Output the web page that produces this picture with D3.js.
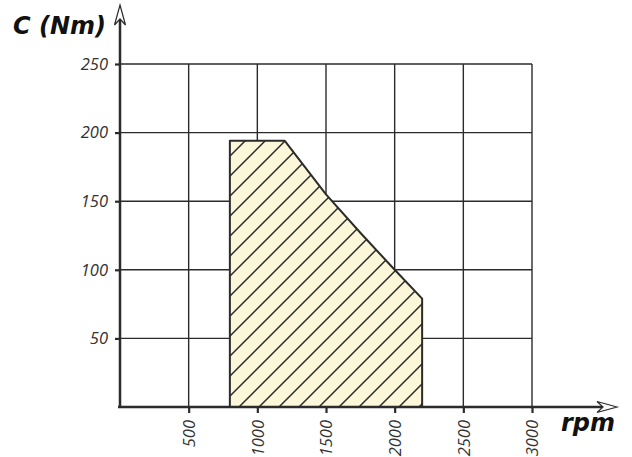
<!DOCTYPE html>
<html>
<head>
<meta charset="utf-8">
<script src="https://cdn.jsdelivr.net/npm/d3@7/dist/d3.min.js"></script>
<style>
  html, body { margin: 0; padding: 0; background: #fff; }
  svg { display: block; }
</style>
</head>
<body>
<svg id="chart" width="632" height="457"></svg>
<script>
// ---- data ----
const rpmTicks = [500, 1000, 1500, 2000, 2500, 3000];
const torqueTicks = [50, 100, 150, 200, 250];
const curveRpm = [800, 800, 1200, 1500, 1750, 2000, 2200, 2200];
const curveTorque = [0, 194, 194, 155, 127, 100, 79, 0];
const yTitle = "C (Nm)";
const xTitle = "rpm";

(function () {
// ---- layout ----
const mL = 120, mR = 532, mT = 64, mB = 407;
const ink = "#2b2b2b";
const svg = d3.select("#chart");

const x = d3.scaleLinear().domain([0, 3000]).range([mL, mR]);
const y = d3.scaleLinear().domain([0, 250]).range([mB, mT]);

// hatch pattern ("/" lines, 20px horizontal spacing)
const defs = svg.append("defs");
const pat = defs.append("pattern")
  .attr("id", "hatch")
  .attr("patternUnits", "userSpaceOnUse")
  .attr("x", 6).attr("y", 0)
  .attr("width", 20).attr("height", 20);
pat.append("rect").attr("width", 20).attr("height", 20).attr("fill", "#fdf7da");
pat.append("path").attr("d", "M-5,25 L25,-5 M-5,5 L5,-5 M15,25 L25,15")
  .attr("stroke", ink).attr("stroke-width", 1.5).attr("fill", "none");

// grid
const grid = svg.append("g");
grid.selectAll("line.h").data(torqueTicks).join("line").attr("class", "h")
  .attr("x1", x(0)).attr("x2", x(3000))
  .attr("y1", d => y(d)).attr("y2", d => y(d))
  .attr("stroke", ink).attr("stroke-width", 1.4);
grid.selectAll("line.v").data(rpmTicks).join("line").attr("class", "v")
  .attr("y1", y(0)).attr("y2", y(250))
  .attr("x1", d => x(d)).attr("x2", d => x(d))
  .attr("stroke", ink).attr("stroke-width", 1.4);

// area
const pts = curveRpm.map((r, i) => [x(r), y(curveTorque[i])]);
svg.append("path")
  .attr("d", d3.line()(pts) + "Z")
  .attr("fill", "url(#hatch)")
  .attr("stroke", ink).attr("stroke-width", 2).attr("stroke-linejoin", "round");

// axes
const fontNum = "'Open Sans', Lato, sans-serif";
const yAxis = svg.append("g").attr("transform", `translate(${mL},0)`)
  .call(d3.axisLeft(y).tickValues(torqueTicks).tickFormat(d3.format("d")).tickSize(5).tickPadding(7));
yAxis.select(".domain").remove();
yAxis.selectAll(".tick line").attr("stroke", ink).attr("stroke-width", 2.2);
yAxis.selectAll(".tick text")
  .attr("fill", "#333").style("font-family", fontNum).style("font-style", "italic")
  .style("font-size", "16.5px");

const xAxis = svg.append("g").attr("transform", `translate(0,${mB})`)
  .call(d3.axisBottom(x).tickValues(rpmTicks).tickFormat(d3.format("d")).tickSize(6));
xAxis.select(".domain").remove();
xAxis.selectAll(".tick line").attr("stroke", ink).attr("stroke-width", 2.2);
xAxis.selectAll(".tick text")
  .attr("transform", "rotate(-90)")
  .attr("x", -13).attr("y", 0).attr("dy", "0.36em")
  .style("text-anchor", "end")
  .attr("fill", "#333").style("font-family", fontNum).style("font-style", "italic")
  .style("font-size", "16.5px");

// axis lines with arrows
svg.append("line").attr("x1", mL).attr("x2", mL).attr("y1", mB + 1).attr("y2", 19)
  .attr("stroke", ink).attr("stroke-width", 2.5);
svg.append("line").attr("x1", mL - 2).attr("x2", 604).attr("y1", mB).attr("y2", mB)
  .attr("stroke", ink).attr("stroke-width", 2.5);
svg.append("path").attr("d", `M${mL},5 L${mL + 5.5},25 L${mL},19 L${mL - 5.5},25 Z`)
  .attr("fill", "#fff").attr("stroke", ink).attr("stroke-width", 1.2).attr("stroke-linejoin", "miter");
svg.append("path").attr("d", `M617,${mB} L597,${mB - 5.5} L603,${mB} L597,${mB + 5.5} Z`)
  .attr("fill", "#fff").attr("stroke", ink).attr("stroke-width", 1.2);

// titles
const fontTitle = "'DejaVu Sans', Lato, sans-serif";
svg.append("text").attr("x", 13).attr("y", 34).text(yTitle)
  .attr("fill", "#111").style("font-family", fontTitle).style("font-weight", "bold")
  .style("font-style", "italic").style("font-size", "24px");
svg.append("text").attr("x", 561).attr("y", 431).text(xTitle)
  .attr("fill", "#111").style("font-family", fontTitle).style("font-weight", "bold")
  .style("font-style", "italic").style("font-size", "24px");
})();
</script>
</body>
</html>
